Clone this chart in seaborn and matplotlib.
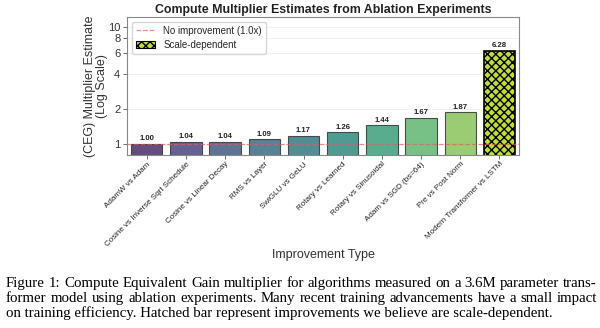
import matplotlib
matplotlib.use("Agg")
import matplotlib.pyplot as plt
import seaborn as sns
import pandas as pd
from matplotlib.lines import Line2D
from matplotlib.patches import Patch

categories = ["AdamW vs Adam", "Cosine vs Inverse Sqrt Schedule", "Cosine vs Linear Decay",
              "RMS vs Layer", "SwiGLU vs GeLU", "Rotary vs Learned", "Rotary vs Sinusoidal",
              "Adam vs SGD (bs=64)", "Pre vs Post Norm", "Modern Transformer vs LSTM"]
values = [1.00, 1.04, 1.04, 1.09, 1.17, 1.26, 1.44, 1.67, 1.87, 6.28]
scale_dependent = [False] * 9 + [True]
yticks = [1, 2, 4, 6, 8, 10]

caption_lines = [
    "Figure 1: Compute Equivalent Gain multiplier for algorithms measured on a 3.6M parameter trans-",
    "former model using ablation experiments. Many recent training advancements have a small impact",
    "on training efficiency. Hatched bar represent improvements we believe are scale-dependent.",
]
caption_justified = [True, True, False]

sns.set_theme(style="whitegrid")
plt.rcParams['font.family'] = ['Liberation Sans', 'DejaVu Sans']

df = pd.DataFrame({"cat": categories, "val": values})
palette = sns.color_palette("viridis", len(categories))

W, H = 600, 328
fig = plt.figure(figsize=(W / 100, H / 100), dpi=100)
ax = fig.add_axes([0.212, 0.527, 0.653, 0.421])
sns.barplot(data=df, x="cat", y="val", hue="cat", palette=palette, legend=False,
            ax=ax, width=0.8, alpha=0.85, edgecolor="#333333", linewidth=0.8)

for p, sd in zip(ax.patches, scale_dependent):
    if sd:
        p.set_hatch("xxxx")
        p.set_edgecolor("black")
        p.set_linewidth(1.2)
        p.set_alpha(1.0)
        p.set_facecolor(palette[-1])

ax.set_yscale("log")
ax.set_ylim(0.8, 12.2)
ax.set_yticks(yticks)
ax.set_yticklabels([str(t) for t in yticks])
ax.yaxis.set_minor_locator(matplotlib.ticker.NullLocator())
ax.tick_params(axis="y", labelsize=8, length=3, width=0.6, color="#555555", pad=2,
               left=True, labelcolor="#333333")
ax.tick_params(axis="x", length=3, width=0.6, color="#555555", bottom=True, pad=1)
ax.grid(axis="y", alpha=0.35, linewidth=0.6)
ax.grid(axis="x", visible=False)
for s in ax.spines.values():
    s.set_color("#888888")
    s.set_linewidth(0.8)

ax.axhline(1.0, color="#e06060", linestyle="--", linewidth=0.9, alpha=0.7)

for i, v in enumerate(values):
    ax.text(i, v * 1.03, f"{v:.2f}", ha="center", va="bottom", fontsize=5.6,
            fontweight="bold", color="#222222")

ax.set_xticks(range(len(categories)))
ax.set_xticklabels(categories, rotation=45, ha="right", rotation_mode="anchor",
                   fontsize=5.8, color="#222222")
ax.set_xlabel("Improvement Type", fontsize=9, color="#333333", labelpad=1)
ax.set_ylabel("(CEG) Multiplier Estimate\n(Log Scale)", fontsize=9, color="#333333",
              labelpad=0, linespacing=1.0)
ax.set_title("Compute Multiplier Estimates from Ablation Experiments", fontsize=8.9,
             fontweight="bold", color="#222222", pad=3)

handles = [Line2D([0], [0], color="#e06060", linestyle="--", linewidth=0.9, alpha=0.7),
           Patch(facecolor=palette[-1], edgecolor="black", hatch="xxxx", linewidth=0.8)]
ax.legend(handles, ["No improvement (1.0x)", "Scale-dependent"], loc="upper left",
          fontsize=7, frameon=True, borderpad=0.4, handlelength=2.0, labelspacing=0.4)

# caption, justified like the source figure
serif = ["Liberation Serif", "DejaVu Serif"]
cap_fs = 10.7
x0_px, x1_px = 6, 597
baselines_px = [287, 302, 317]
renderer = fig.canvas.get_renderer()
for ypx, line, just in zip(baselines_px, caption_lines, caption_justified):
    y = 1 - ypx / H
    if not just:
        fig.text(x0_px / W, y, line, fontsize=cap_fs, family=serif, ha="left",
                 va="baseline", color="black")
        continue
    words = line.split(" ")
    texts = [fig.text(0, y, w, fontsize=cap_fs, family=serif, ha="left",
                      va="baseline", color="black") for w in words]
    widths = [t.get_window_extent(renderer).width for t in texts]
    gap = ((x1_px - x0_px) - sum(widths)) / (len(words) - 1)
    x = x0_px
    for t, wd in zip(texts, widths):
        t.set_x(x / W)
        x += wd + gap

fig.savefig("out.png", dpi=100)
